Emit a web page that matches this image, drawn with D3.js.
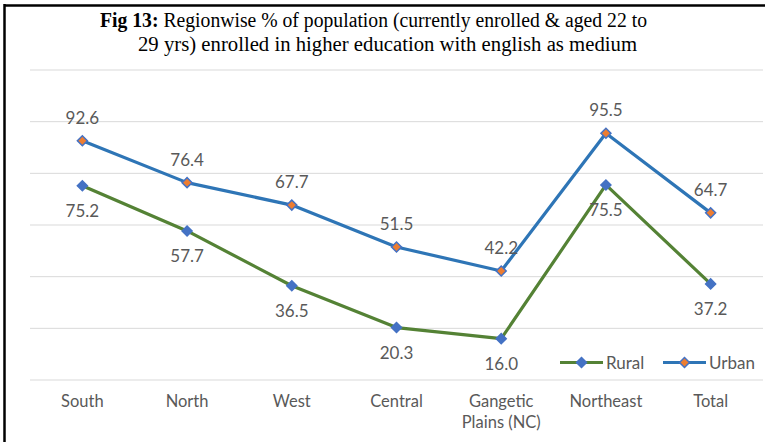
<!DOCTYPE html>
<html><head><meta charset="utf-8">
<script src="https://cdn.jsdelivr.net/npm/d3@7"></script>
<style>body{margin:0;background:#fff;}svg{display:block;}</style>
</head><body>
<svg id="chart" width="765" height="442"></svg>
<script>
const categories = ["South","North","West","Central","Gangetic Plains (NC)","Northeast","Total"];
const rural = [75.2,57.7,36.5,20.3,16.0,75.5,37.2];
const urban = [92.6,76.4,67.7,51.5,42.2,95.5,64.7];
const yTicks = [0,20,40,60,80,100,120];
const seriesNames = ["Rural","Urban"];

const svg = d3.select("#chart");
const W = 765, H = 442;
const m = {left:30, right:2, top:70, bottom:62};
const x = d3.scaleBand().domain(categories).range([m.left, W - m.right]);
const y = d3.scaleLinear().domain([0,120]).range([H - m.bottom, m.top]);
const cx = d => x(d) + x.bandwidth()/2;

// frame
svg.append("line").attr("x1",4).attr("x2",W).attr("y1",5.5).attr("y2",5.5).attr("stroke","#000").attr("stroke-width",2.5);
svg.append("line").attr("x1",4.5).attr("x2",4.5).attr("y1",4).attr("y2",H).attr("stroke","#000").attr("stroke-width",2.5);

// title
const tf = "Liberation Serif, Times New Roman, serif";
const t1 = svg.append("text").attr("font-family",tf).attr("font-size",20).attr("fill","#000")
  .attr("x",100).attr("y",27).attr("textLength",547).attr("lengthAdjust","spacingAndGlyphs");
t1.append("tspan").attr("font-weight","bold").text("Fig 13:");
t1.append("tspan").text(" Regionwise % of population (currently enrolled & aged 22 to");
svg.append("text").attr("font-family",tf).attr("font-size",20).attr("fill","#000")
  .attr("x",138).attr("y",51).attr("textLength",499).attr("lengthAdjust","spacingAndGlyphs")
  .text("29 yrs) enrolled in higher education with english as medium");

// gridlines
svg.append("g").selectAll("line").data(yTicks).join("line")
  .attr("x1",m.left).attr("x2",W - m.right)
  .attr("y1",d=>y(d)).attr("y2",d=>y(d))
  .attr("stroke","#d9d9d9").attr("stroke-width",1);

const lf = "Lato, Open Sans, sans-serif";
// x axis labels
const xAxis = d3.axisBottom(x).tickSize(0).tickPadding(0);
const gx = svg.append("g").attr("transform",`translate(0,${y(0)})`).call(xAxis);
gx.select(".domain").remove();
gx.selectAll("text").attr("font-family",lf).attr("font-size",16.5).attr("fill","#595959").attr("dy",null)
  .each(function(d){
    const el = d3.select(this); el.text(null);
    const parts = d === "Gangetic Plains (NC)" ? ["Gangetic","Plains (NC)"] : [d];
    parts.forEach((p,i)=> el.append("tspan").attr("x",0).attr("y",27 + i*21).text(p));
  });

const lineGen = d3.line().x((d,i)=>cx(categories[i])).y(d=>y(d));

svg.append("path").datum(rural).attr("d",lineGen).attr("fill","none").attr("stroke","#548235").attr("stroke-width",3.2).attr("stroke-linejoin","round");
svg.append("path").datum(urban).attr("d",lineGen).attr("fill","none").attr("stroke","#2E75B6").attr("stroke-width",3.2).attr("stroke-linejoin","round");

function markers(data, fill, stroke){
  svg.append("g").selectAll("path").data(data).join("path")
    .attr("d", d3.symbol().type(d3.symbolSquare).size(50))
    .attr("transform",(d,i)=>`translate(${cx(categories[i])},${y(d)}) rotate(45)`)
    .attr("fill",fill).attr("stroke",stroke).attr("stroke-width",1.5);
}
markers(rural,"#4472C4","#4472C4");
markers(urban,"#ED7D31","#4472C4");

svg.append("g").selectAll("text").data(urban).join("text")
  .attr("x",(d,i)=>cx(categories[i])).attr("y",d=>y(d)-17)
  .attr("text-anchor","middle").attr("font-family",lf).attr("font-size",17).attr("fill","#595959")
  .text(d=>d.toFixed(1));
svg.append("g").selectAll("text").data(rural).join("text")
  .attr("x",(d,i)=>cx(categories[i])).attr("y",d=>y(d)+31)
  .attr("text-anchor","middle").attr("font-family",lf).attr("font-size",17).attr("fill","#595959")
  .text(d=>d.toFixed(1));

// legend
const legY = 362.5;
const leg = [{name:seriesNames[0], line:"#548235", fill:"#4472C4", x:560},{name:seriesNames[1], line:"#2E75B6", fill:"#ED7D31", x:663}];
leg.forEach(l=>{
  svg.append("line").attr("x1",l.x).attr("x2",l.x+43).attr("y1",legY).attr("y2",legY).attr("stroke",l.line).attr("stroke-width",3.2);
  svg.append("path").attr("d",d3.symbol().type(d3.symbolSquare).size(50)).attr("transform",`translate(${l.x+21.5},${legY}) rotate(45)`)
    .attr("fill",l.fill).attr("stroke","#4472C4").attr("stroke-width",1.5);
  svg.append("text").attr("x",l.x+46).attr("y",legY+6).attr("font-family",lf).attr("font-size",17).attr("fill","#595959").text(l.name);
});
</script>
</body></html>
